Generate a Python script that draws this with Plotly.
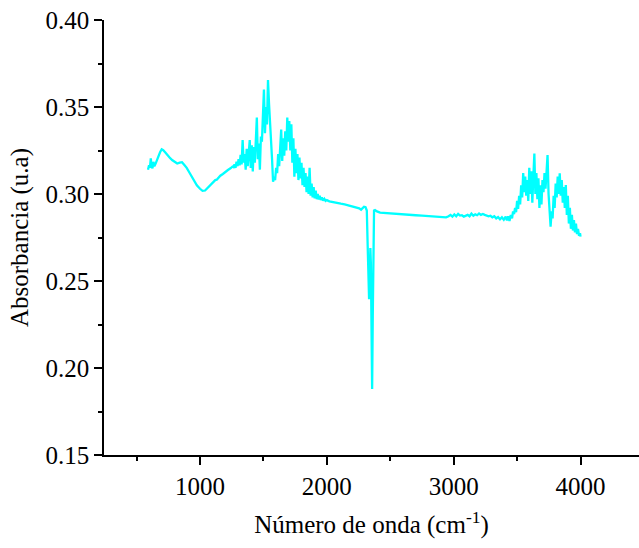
import plotly.graph_objects as go

# Wavenumber (cm-1) and absorbance (u.a)
wn_a = [590, 598, 605, 612, 618, 625, 632, 640, 650, 660, 672, 685, 698, 710, 725, 740, 760, 780,
        800, 820, 840, 858, 875, 895, 915, 935, 955, 975, 1000, 1020, 1040, 1060, 1080, 1100,
        1120, 1132, 1145, 1160, 1180, 1200, 1220, 1240, 1256]
ab_a = [0.3140, 0.3165, 0.3150, 0.3205, 0.3160, 0.3148, 0.3185, 0.3160, 0.3175, 0.3195, 0.3215,
        0.3240, 0.3257, 0.3252, 0.3240, 0.3225, 0.3210, 0.3195, 0.3185, 0.3175, 0.3180, 0.3183,
        0.3168, 0.3150, 0.3125, 0.3100, 0.3075, 0.3050, 0.3030, 0.3018, 0.3020, 0.3035, 0.3055,
        0.3068, 0.3080, 0.3082, 0.3095, 0.3105, 0.3115, 0.3128, 0.3138, 0.3148, 0.3158]

wn_b = [1264, 1272, 1280, 1288, 1296, 1304, 1312, 1320, 1328, 1336, 1344, 1352, 1360, 1368, 1376,
        1384, 1392, 1400, 1408, 1416, 1424, 1432, 1440, 1448, 1456, 1464, 1472, 1480, 1488, 1496,
        1504, 1512, 1520, 1528, 1536, 1544, 1552, 1560, 1568, 1576, 1584, 1592, 1600, 1608, 1616,
        1624, 1632, 1640, 1648, 1656, 1664, 1672, 1680, 1688, 1696, 1704, 1712, 1720, 1728, 1736,
        1744, 1752, 1760, 1768, 1776, 1784, 1792, 1800, 1808, 1816, 1824, 1832, 1840, 1848, 1856,
        1864, 1872, 1880, 1888, 1896, 1904, 1912, 1920, 1928, 1936, 1944, 1952, 1960, 1970, 1980,
        1990, 2000]
ab_b = [0.3155, 0.3170, 0.3150, 0.3185, 0.3160, 0.3200, 0.3165, 0.3225, 0.3170, 0.3310, 0.3180,
        0.3230, 0.3140, 0.3260, 0.3160, 0.3250, 0.3310, 0.3150, 0.3280, 0.3130, 0.3270, 0.3180,
        0.3300, 0.3440, 0.3200, 0.3290, 0.3140, 0.3330, 0.3300, 0.3480, 0.3600, 0.3350, 0.3500,
        0.3400, 0.3655, 0.3520, 0.3380, 0.3270, 0.3200, 0.3070, 0.3100, 0.3080, 0.3150, 0.3120,
        0.3230, 0.3160, 0.3300, 0.3370, 0.3190, 0.3320, 0.3220, 0.3360, 0.3250, 0.3440, 0.3300,
        0.3420, 0.3250, 0.3400, 0.3180, 0.3320, 0.3100, 0.3260, 0.3120, 0.3230, 0.3080, 0.3210,
        0.3090, 0.3180, 0.3050, 0.3150, 0.3040, 0.3120, 0.3010, 0.3100, 0.3000, 0.3150, 0.2990,
        0.3060, 0.2980, 0.3040, 0.2975, 0.3020, 0.2970, 0.3000, 0.2968, 0.2990, 0.2965, 0.2980,
        0.2962, 0.2972, 0.2960, 0.2965]

wn_c = [2020, 2050, 2080, 2110, 2140, 2170, 2200, 2230, 2255, 2270, 2282, 2293, 2305, 2315, 2322,
        2328, 2333, 2338, 2343, 2347, 2352, 2357, 2362, 2367, 2372, 2380, 2395, 2420, 2450, 2500,
        2550, 2600, 2650, 2700, 2750, 2800, 2850, 2900, 2940, 2960, 2975, 2990, 3005, 3020, 3035,
        3050, 3065, 3080, 3095, 3110, 3125, 3140, 3155, 3170, 3185, 3200, 3215, 3230, 3245, 3260,
        3275, 3290, 3305, 3320, 3335, 3350, 3365, 3380, 3395, 3410, 3420, 3430, 3440, 3450, 3460,
        3468]
ab_c = [0.2958, 0.2952, 0.2948, 0.2944, 0.2940, 0.2935, 0.2930, 0.2925, 0.2918, 0.2910, 0.2918,
        0.2927, 0.2924, 0.2905, 0.2700, 0.2450, 0.2395, 0.2500, 0.2690, 0.2600, 0.2300, 0.1880,
        0.2300, 0.2750, 0.2905, 0.2908, 0.2900, 0.2893, 0.2891, 0.2888, 0.2885, 0.2882, 0.2880,
        0.2878, 0.2876, 0.2874, 0.2872, 0.2870, 0.2866, 0.2872, 0.2880, 0.2870, 0.2883, 0.2872,
        0.2886, 0.2876, 0.2878, 0.2870, 0.2876, 0.2880, 0.2872, 0.2887, 0.2875, 0.2883, 0.2878,
        0.2888, 0.2880, 0.2885, 0.2880, 0.2878, 0.2872, 0.2875, 0.2866, 0.2872, 0.2860, 0.2868,
        0.2855, 0.2866, 0.2852, 0.2870, 0.2848, 0.2872, 0.2845, 0.2880, 0.2860, 0.2900]

wn_d = [3476, 3484, 3492, 3500, 3508, 3516, 3524, 3532, 3540, 3548, 3556, 3564, 3572, 3580, 3588,
        3596, 3604, 3612, 3620, 3628, 3636, 3644, 3652, 3660, 3668, 3676, 3684, 3692, 3700, 3708,
        3716, 3724, 3732, 3740, 3748, 3756, 3764, 3772, 3780, 3788, 3796, 3804, 3812, 3820, 3828,
        3836, 3844, 3852, 3860, 3868, 3876, 3884, 3892, 3900, 3908, 3916, 3924, 3932, 3940, 3948,
        3956, 3964, 3972, 3980, 3988, 3996, 4000]
ab_d = [0.2885, 0.2920, 0.2895, 0.2960, 0.2915, 0.2990, 0.2940, 0.3050, 0.2980, 0.3120, 0.3010,
        0.3100, 0.2990, 0.3080, 0.2960, 0.3150, 0.3000, 0.3130, 0.2950, 0.3100, 0.3233, 0.3000,
        0.3120, 0.2970, 0.3090, 0.2920, 0.3050, 0.2940, 0.3080, 0.3010, 0.3120, 0.3030, 0.3150,
        0.3224, 0.3000, 0.2880, 0.2812, 0.2900, 0.2860, 0.2990, 0.2920, 0.3060, 0.2980, 0.3100,
        0.3000, 0.3119, 0.2990, 0.3080, 0.2950, 0.3040, 0.2920, 0.3052, 0.2880, 0.2990, 0.2830,
        0.2920, 0.2800, 0.2880, 0.2790, 0.2850, 0.2780, 0.2830, 0.2770, 0.2800, 0.2760, 0.2775,
        0.2755]

wavenumber = wn_a + wn_b + wn_c + wn_d
absorbance = ab_a + ab_b + ab_c + ab_d

x_ticks = [1000, 2000, 3000, 4000]
y_ticks = [0.15, 0.20, 0.25, 0.30, 0.35, 0.40]
y_labels = ["0.15", "0.20", "0.25", "0.30", "0.35", "0.40"]

FONT = "Liberation Serif, Times New Roman, serif"

fig = go.Figure()
fig.add_trace(go.Scatter(x=wavenumber, y=absorbance, mode="lines",
                         line=dict(color="#00FFFF", width=2.3), showlegend=False))

fig.update_layout(
    width=639, height=548,
    margin=dict(l=104, r=0, t=20, b=93),
    paper_bgcolor="white", plot_bgcolor="white",
    font=dict(family=FONT, size=25, color="black"),
)
fig.update_xaxes(
    range=[243, 4461], tickvals=x_ticks, ticks="outside", ticklen=8, tickwidth=1.5,
    showline=True, linecolor="black", linewidth=1.5, showgrid=False, zeroline=False,
    minor=dict(dtick=500, tick0=0, ticks="outside", ticklen=4, tickwidth=1.5, tickcolor="black"),
    tickcolor="black", tickfont=dict(family=FONT, size=25),
    title=dict(text="Número de onda (cm<sup>-1</sup>)", font=dict(family=FONT, size=25), standoff=17),
)
fig.update_yaxes(
    range=[0.15, 0.40], tickvals=y_ticks, ticktext=y_labels, ticks="outside", ticklen=8, tickwidth=1.5,
    showline=True, linecolor="black", linewidth=1.5, showgrid=False, zeroline=False,
    minor=dict(dtick=0.025, tick0=0, ticks="outside", ticklen=4, tickwidth=1.5, tickcolor="black"),
    tickcolor="black", tickfont=dict(family=FONT, size=25),
    title=dict(text="Absorbancia (u.a)", font=dict(family=FONT, size=25), standoff=10),
)

fig.write_html("out.html")
